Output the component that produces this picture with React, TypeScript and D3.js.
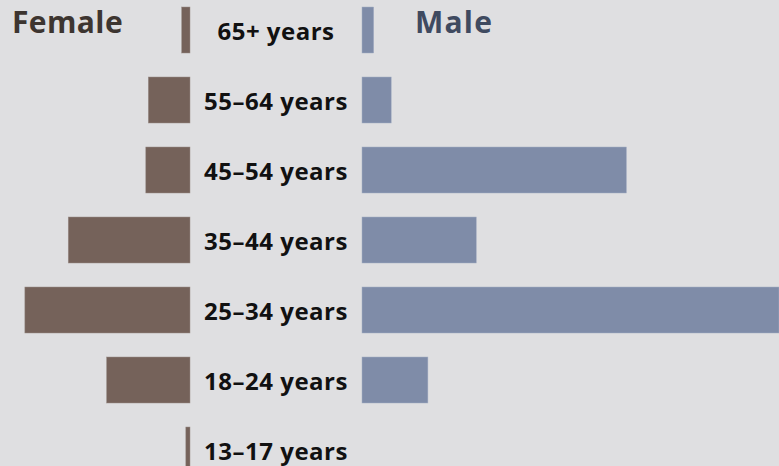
import React from "react";
import * as d3 from "d3";

const ageGroups = [
  "65+ years",
  "55–64 years",
  "45–54 years",
  "35–44 years",
  "25–34 years",
  "18–24 years",
  "13–17 years",
];
const female = [1.0, 5.0, 5.3, 14.6, 19.8, 10.0, 0.5];
const male = [1.4, 3.5, 31.7, 13.7, 50, 7.9, 0];

const W = 779;
const H = 466;

export default function App() {
  const y = d3.scalePoint<string>().domain(ageGroups).range([30, 450]);
  const x = d3.scaleLinear().domain([0, 50]).range([0, 417]);
  const femaleRight = 190;
  const maleLeft = 362;
  const labelX = 276;
  const barH = 46;
  const font = "'Open Sans', sans-serif";

  return (
    <div style={{ position: "fixed", left: 0, top: 0 }}>
      <svg width={W} height={H} style={{ display: "block" }}>
        <rect width={W} height={H} fill="#dfdfe1" />
        {ageGroups.map((g, i) => (
          <g key={g}>
            {female[i] > 0 && (
              <rect
                x={femaleRight - x(female[i])}
                y={(y(g) as number) - barH / 2}
                width={x(female[i])}
                height={barH}
                fill="#75625a"
                stroke="#9a8f8a"
                strokeWidth={0.5}
              />
            )}
            {male[i] > 0 && (
              <rect
                x={maleLeft}
                y={(y(g) as number) - barH / 2}
                width={x(male[i])}
                height={barH}
                fill="#7f8ca8"
                stroke="#a3aec4"
                strokeWidth={0.5}
              />
            )}
            <text
              x={labelX}
              y={(y(g) as number) + 10}
              textAnchor="middle"
              fontFamily={font}
              fontWeight="bold"
              fontSize={24}
              letterSpacing={0.5}
              fill="#111"
            >
              {g}
            </text>
          </g>
        ))}
        <text x={12} y={33} fontFamily={font} fontWeight="bold" fontSize={30} letterSpacing={0.4} fill="#3d3530">
          Female
        </text>
        <text x={415} y={33} fontFamily={font} fontWeight="bold" fontSize={30} letterSpacing={1.2} fill="#3f4a60">
          Male
        </text>
      </svg>
    </div>
  );
}
